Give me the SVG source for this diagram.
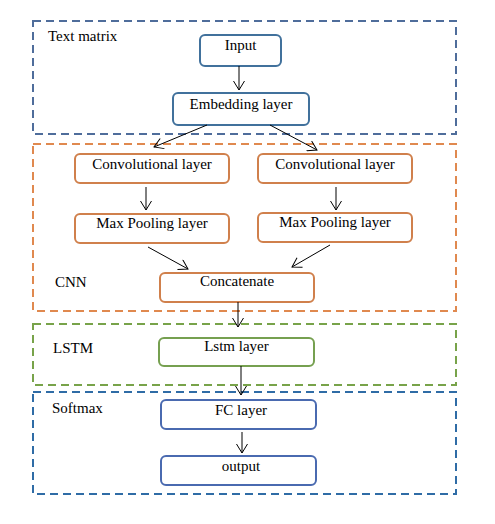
<svg xmlns="http://www.w3.org/2000/svg" width="495" height="524" viewBox="0 0 495 524">
<defs>
<marker id="arr" markerWidth="12" markerHeight="12" refX="10" refY="6" orient="auto" markerUnits="userSpaceOnUse">
<path d="M1,0.5 L10,6 L1,11.5" fill="none" stroke="#000" stroke-width="1"/>
</marker>
</defs>
<style>
text{font-family:"Liberation Serif","Times New Roman",serif;font-size:15px;fill:#000}
.c{text-anchor:middle}
.grp{fill:none;stroke-width:2;stroke-dasharray:8 5}
.node{fill:#fff;stroke-width:2}
.b{stroke:#41719c}
.o{stroke:#d0804c}
.g{stroke:#76a050}
.fb{stroke:#4a6ab0}
.conn line{stroke:#000;stroke-width:1;marker-end:url(#arr)}
</style>
<rect width="495" height="524" fill="#fff"/>
<g id="groups">
<rect id="text-matrix" class="grp" x="33" y="21" width="423" height="113" stroke="#4f6d9b"/>
<rect id="cnn" class="grp" x="33" y="144" width="423" height="167" stroke="#e0894f"/>
<rect id="lstm" class="grp" x="33" y="324" width="423" height="61" stroke="#78a34a"/>
<rect id="softmax" class="grp" x="33" y="392" width="423" height="102" stroke="#2f6ca6"/>
<text x="48" y="41">Text matrix</text>
<text x="55" y="287">CNN</text>
<text x="53" y="353">LSTM</text>
<text x="52" y="413">Softmax</text>
</g>
<g id="node-input"><rect class="node b" x="200" y="35" width="81" height="31" rx="5"/><text class="c" x="240.5" y="50">Input</text></g>
<g id="node-embedding"><rect class="node b" x="173" y="93" width="136" height="32" rx="5"/><text class="c" x="241" y="109">Embedding layer</text></g>
<g id="node-conv1"><rect class="node o" x="75" y="154" width="154" height="29" rx="5"/><text class="c" x="152" y="169">Convolutional layer</text></g>
<g id="node-conv2"><rect class="node o" x="258" y="154" width="154" height="29" rx="5"/><text class="c" x="335" y="169">Convolutional layer</text></g>
<g id="node-pool1"><rect class="node o" x="75" y="214" width="154" height="29" rx="5"/><text class="c" x="152" y="228">Max Pooling layer</text></g>
<g id="node-pool2"><rect class="node o" x="258" y="213" width="154" height="29" rx="5"/><text class="c" x="335" y="227">Max Pooling layer</text></g>
<g id="node-concat"><rect class="node o" x="160" y="273" width="154" height="29" rx="5"/><text class="c" x="237" y="286">Concatenate</text></g>
<g id="node-lstm"><rect class="node g" x="159" y="338" width="155" height="28" rx="5"/><text class="c" x="236.5" y="351">Lstm layer</text></g>
<g id="node-fc"><rect class="node fb" x="161" y="400" width="155" height="29" rx="5"/><text class="c" x="241" y="415">FC layer</text></g>
<g id="node-output"><rect class="node fb" x="161" y="456" width="155" height="29" rx="5"/><text class="c" x="241" y="471">output</text></g>
<g id="connectors" class="conn">
<line x1="239" y1="66" x2="239" y2="90"/>
<line x1="207" y1="125" x2="154" y2="147"/>
<line x1="270" y1="125" x2="317" y2="150"/>
<line x1="146" y1="187" x2="146" y2="210"/>
<line x1="336" y1="187" x2="336" y2="210"/>
<line x1="148" y1="247" x2="188" y2="269"/>
<line x1="330" y1="245" x2="292" y2="267"/>
<line x1="238" y1="302" x2="238" y2="327"/>
<line x1="241" y1="366" x2="241" y2="395"/>
<line x1="242" y1="432" x2="242" y2="453"/>
</g>
</svg>
